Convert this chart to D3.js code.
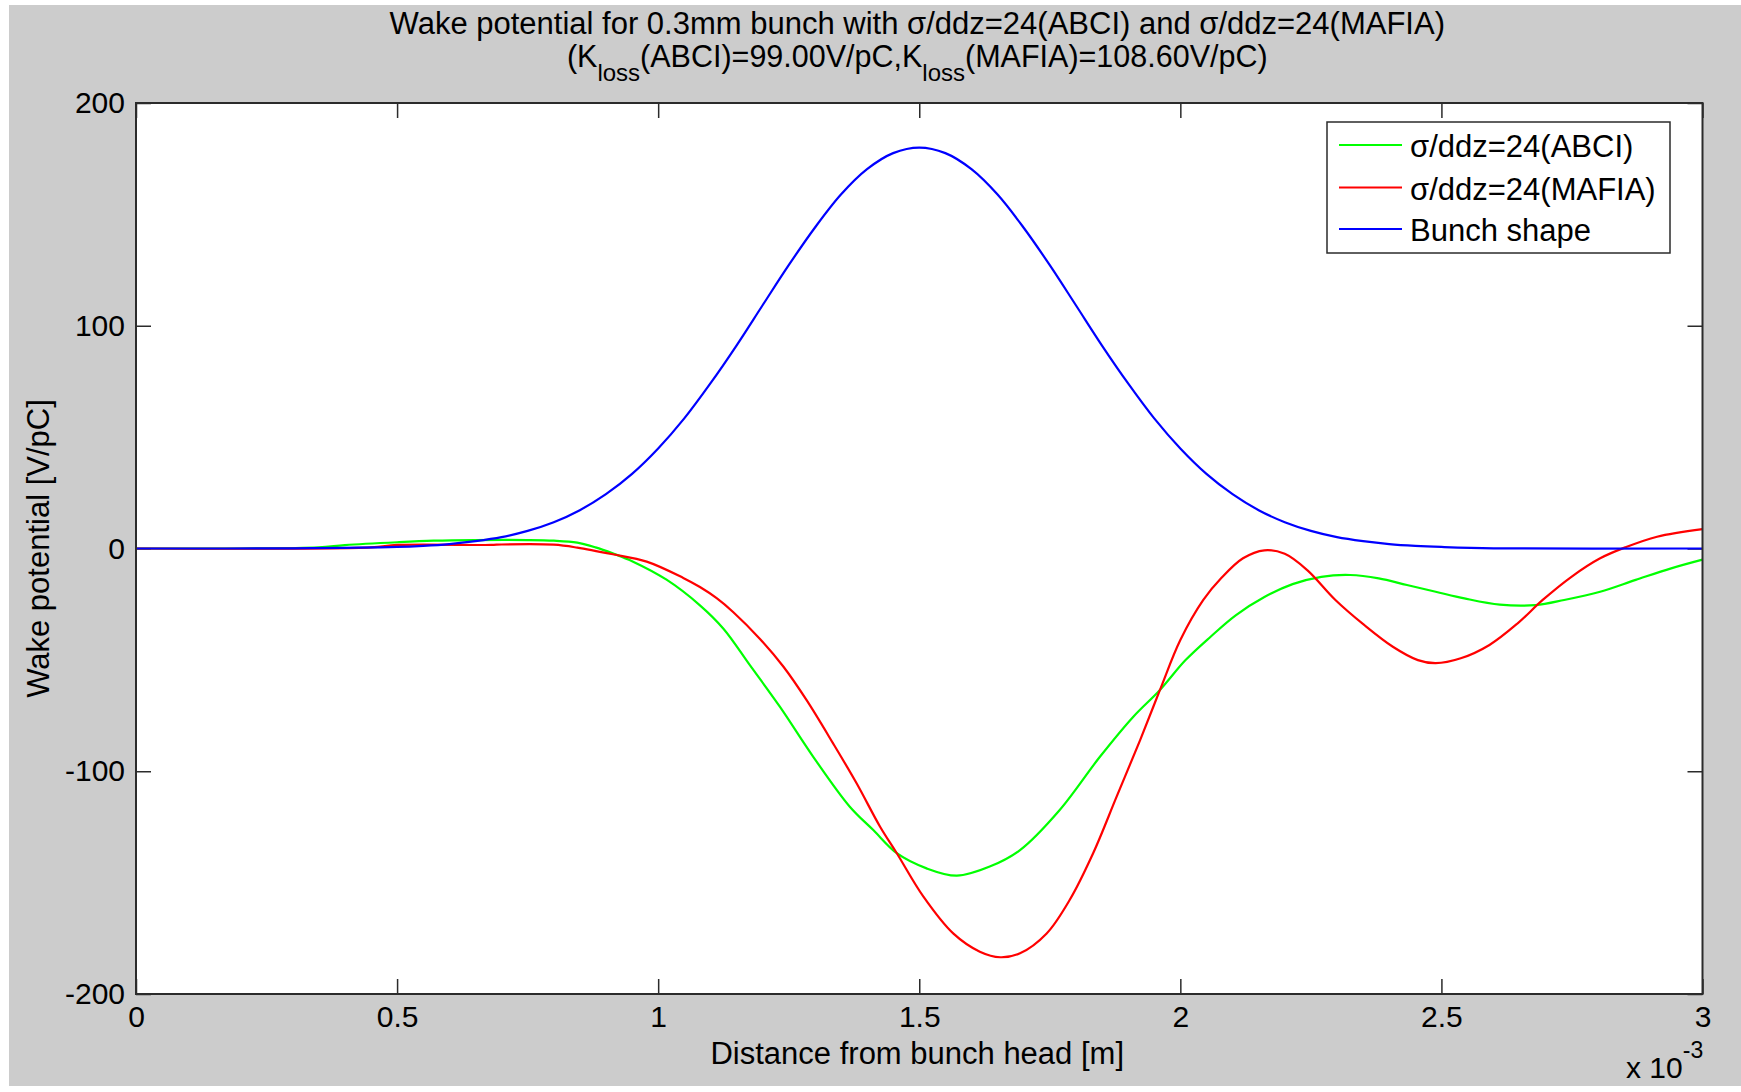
<!DOCTYPE html>
<html>
<head>
<meta charset="utf-8">
<script src="https://cdn.jsdelivr.net/npm/d3@7"></script>
<style>
  html, body { margin: 0; padding: 0; background: #ffffff; }
  svg { display: block; }
  text { font-family: "Liberation Sans", Arial, sans-serif; fill: #000; }
</style>
</head>
<body>
<svg id="chart" width="1741" height="1092"></svg>
<script>
// ---------- data (x in units of 1e-3 m) ----------
const titleLine1 = "Wake potential for 0.3mm bunch with σ/ddz=24(ABCI) and σ/ddz=24(MAFIA)";
const xLabel = "Distance from bunch head [m]";
const yLabel = "Wake potential [V/pC]";
const xTickValues = [0, 0.5, 1, 1.5, 2, 2.5, 3];
const xTickLabels = ["0", "0.5", "1", "1.5", "2", "2.5", "3"];
const yTickValues = [-200, -100, 0, 100, 200];
const yTickLabels = ["-200", "-100", "0", "100", "200"];
const seriesNames = ["σ/ddz=24(ABCI)", "σ/ddz=24(MAFIA)", "Bunch shape"];
const seriesColors = ["#00ff00", "#ff0000", "#0000ff"];

const abciX = [0, 0.2, 0.35, 0.4, 0.5, 0.57, 0.65, 0.75, 0.8, 0.845, 0.88, 0.913, 0.952, 1.016, 1.08, 1.125, 1.176, 1.233, 1.297, 1.367, 1.412, 1.457, 1.514, 1.572, 1.635, 1.693, 1.769, 1.846, 1.91, 1.961, 2.01, 2.058, 2.106, 2.161, 2.215, 2.27, 2.325, 2.38, 2.434, 2.489, 2.544, 2.612, 2.68, 2.735, 2.804, 2.872, 2.94, 3.0];
const abciY = [0, 0, 0.5, 1.5, 2.8, 3.5, 3.8, 3.8, 3.5, 2.6, 0.5, -2.2, -5.9, -14, -25.5, -36.0, -52.5, -71, -93.5, -115.9, -126.4, -136.8, -143.6, -146.9, -142.8, -135.4, -117.4, -93.5, -75.5, -63.5, -50.1, -39.6, -30.0, -21.8, -16.0, -12.7, -11.9, -13.4, -16.4, -19.4, -22.4, -25.2, -25.4, -23.1, -19.4, -14.1, -8.9, -5.0];

const mafiaX = [0, 0.45, 0.5, 0.68, 0.7, 0.8, 0.845, 0.913, 0.978, 1.048, 1.08, 1.112, 1.144, 1.195, 1.24, 1.284, 1.335, 1.38, 1.425, 1.457, 1.508, 1.565, 1.616, 1.655, 1.693, 1.744, 1.788, 1.833, 1.878, 1.923, 1.961, 2.0, 2.044, 2.078, 2.12, 2.161, 2.2, 2.243, 2.297, 2.352, 2.407, 2.455, 2.489, 2.537, 2.592, 2.646, 2.694, 2.749, 2.804, 2.852, 2.913, 3.0];
const mafiaY = [0, 0.5, 1.6, 1.6, 1.8, 1.7, 0.4, -2.6, -5.9, -13.2, -17.3, -22.3, -28.6, -40.6, -53.1, -68, -87.5, -105.4, -124.9, -136.8, -156.3, -172.8, -181, -183.5, -181.7, -172.8, -157.8, -136.8, -111.4, -86, -63.5, -41.1, -23.1, -13.4, -4.4, -0.8, -2.4, -9.7, -23.1, -34.3, -44.1, -50.1, -51.5, -49.3, -43.3, -33.6, -23.1, -12.7, -4.4, 0.5, 5.3, 8.7];

const bunchX = [0, 0.3, 0.5, 0.55, 0.6, 0.65, 0.7, 0.75, 0.8, 0.85, 0.9, 0.95, 1.0, 1.05, 1.1, 1.15, 1.2, 1.25, 1.3, 1.35, 1.4, 1.45, 1.5, 1.55, 1.6, 1.65, 1.7, 1.75, 1.8, 1.85, 1.9, 1.95, 2.0, 2.05, 2.1, 2.15, 2.2, 2.25, 2.3, 2.35, 2.4, 2.45, 2.5, 2.6, 3.0];
const bunchY = [0, 0.1, 0.7, 1.2, 2.0, 3.3, 5.1, 7.9, 11.8, 17.2, 24.4, 33.5, 44.9, 58.4, 74.1, 91.1, 109.2, 127.2, 144.0, 158.9, 170.3, 177.5, 180, 177.5, 170.3, 158.9, 144.0, 127.2, 109.2, 91.1, 74.1, 58.4, 44.9, 33.5, 24.4, 17.2, 11.8, 7.9, 5.1, 3.3, 2.0, 1.2, 0.7, 0.1, 0];

// ---------- layout ----------
const W = 1741, H = 1092;
const plot = { left: 136, right: 1702.5, top: 103, bottom: 994 };
const FS = 30;

const svg = d3.select("#chart");

// figure background
svg.append("rect").attr("x", 9).attr("y", 5).attr("width", W - 9).attr("height", 1081).attr("fill", "#cccccc");
// axes background
svg.append("rect").attr("x", plot.left).attr("y", plot.top)
  .attr("width", plot.right - plot.left).attr("height", plot.bottom - plot.top).attr("fill", "#ffffff");

const x = d3.scaleLinear().domain([0, 3]).range([plot.left, plot.right]);
const y = d3.scaleLinear().domain([-200, 200]).range([plot.bottom, plot.top]);

const axisColor = "#2b2b2b";
function styleAxis(g) {
  g.selectAll(".domain").remove();
  g.selectAll(".tick line").attr("stroke", axisColor).attr("stroke-width", 1.5);
  g.selectAll(".tick text").style("font-size", FS + "px").style("font-family", '"Liberation Sans", Arial, sans-serif').attr("fill", "#000");
}

// bottom
svg.append("g").attr("transform", `translate(0,${plot.bottom})`)
  .call(d3.axisBottom(x).tickValues(xTickValues).tickFormat((d, i) => xTickLabels[i])
    .tickSizeInner(-15).tickSizeOuter(0).tickPadding(12))
  .call(styleAxis);
// top
svg.append("g").attr("transform", `translate(0,${plot.top})`)
  .call(d3.axisTop(x).tickValues(xTickValues).tickFormat("").tickSizeInner(-15).tickSizeOuter(0))
  .call(styleAxis);
// left
svg.append("g").attr("transform", `translate(${plot.left},0)`)
  .call(d3.axisLeft(y).tickValues(yTickValues).tickFormat((d, i) => yTickLabels[i])
    .tickSizeInner(-15).tickSizeOuter(0).tickPadding(11))
  .call(styleAxis);
// right
svg.append("g").attr("transform", `translate(${plot.right},0)`)
  .call(d3.axisRight(y).tickValues(yTickValues).tickFormat("").tickSizeInner(-15).tickSizeOuter(0))
  .call(styleAxis);

// curves
svg.append("clipPath").attr("id", "clip").append("rect")
  .attr("x", plot.left).attr("y", plot.top).attr("width", plot.right - plot.left).attr("height", plot.bottom - plot.top);

const line = d3.line().x(d => x(d[0])).y(d => y(d[1])).curve(d3.curveCatmullRom.alpha(0.5));
const series = [
  d3.zip(abciX, abciY),
  d3.zip(mafiaX, mafiaY),
  d3.zip(bunchX, bunchY)
];
series.forEach((s, i) => {
  svg.append("path").attr("d", line(s)).attr("fill", "none")
    .attr("stroke", seriesColors[i]).attr("stroke-width", 2.2)
    .attr("clip-path", "url(#clip)");
});

// frame
svg.append("rect").attr("x", plot.left).attr("y", plot.top)
  .attr("width", plot.right - plot.left).attr("height", plot.bottom - plot.top)
  .attr("fill", "none").attr("stroke", axisColor).attr("stroke-width", 2);

// titles
const cx = (plot.left + plot.right) / 2;
svg.append("text").attr("x", cx - 2).attr("y", 33.5).attr("text-anchor", "middle")
  .style("font-size", "31px").text(titleLine1);
const t2 = svg.append("text").attr("x", cx - 2).attr("y", 67).attr("text-anchor", "middle").style("font-size", "30.5px");
t2.append("tspan").text("(K");
t2.append("tspan").attr("dy", 14).style("font-size", "24px").text("loss");
t2.append("tspan").attr("dy", -14).text("(ABCI)=99.00V/pC,K");
t2.append("tspan").attr("dy", 14).style("font-size", "24px").text("loss");
t2.append("tspan").attr("dy", -14).text("(MAFIA)=108.60V/pC)");

// axis labels
svg.append("text").attr("x", cx - 2).attr("y", 1064).attr("text-anchor", "middle")
  .style("font-size", "31px").text(xLabel);
svg.append("text").attr("transform", `translate(49,${(plot.top + plot.bottom) / 2}) rotate(-90)`)
  .attr("text-anchor", "middle").style("font-size", "31px").text(yLabel);

// exponent label
const ex = svg.append("text").attr("x", 1626).attr("y", 1078).style("font-size", FS + "px");
ex.append("tspan").text("x 10");
ex.append("tspan").attr("dy", -20).style("font-size", "23px").text("-3");

// legend
const lg = svg.append("g");
lg.append("rect").attr("x", 1327).attr("y", 122).attr("width", 343).attr("height", 131)
  .attr("fill", "#ffffff").attr("stroke", axisColor).attr("stroke-width", 1.5);
const legY = [145, 187.5, 229];
seriesNames.forEach((name, i) => {
  lg.append("line").attr("x1", 1339).attr("x2", 1402).attr("y1", legY[i]).attr("y2", legY[i])
    .attr("stroke", seriesColors[i]).attr("stroke-width", 2.2);
  lg.append("text").attr("x", 1410).attr("y", legY[i] + 12).style("font-size", "31px").text(name);
});
</script>
</body>
</html>
